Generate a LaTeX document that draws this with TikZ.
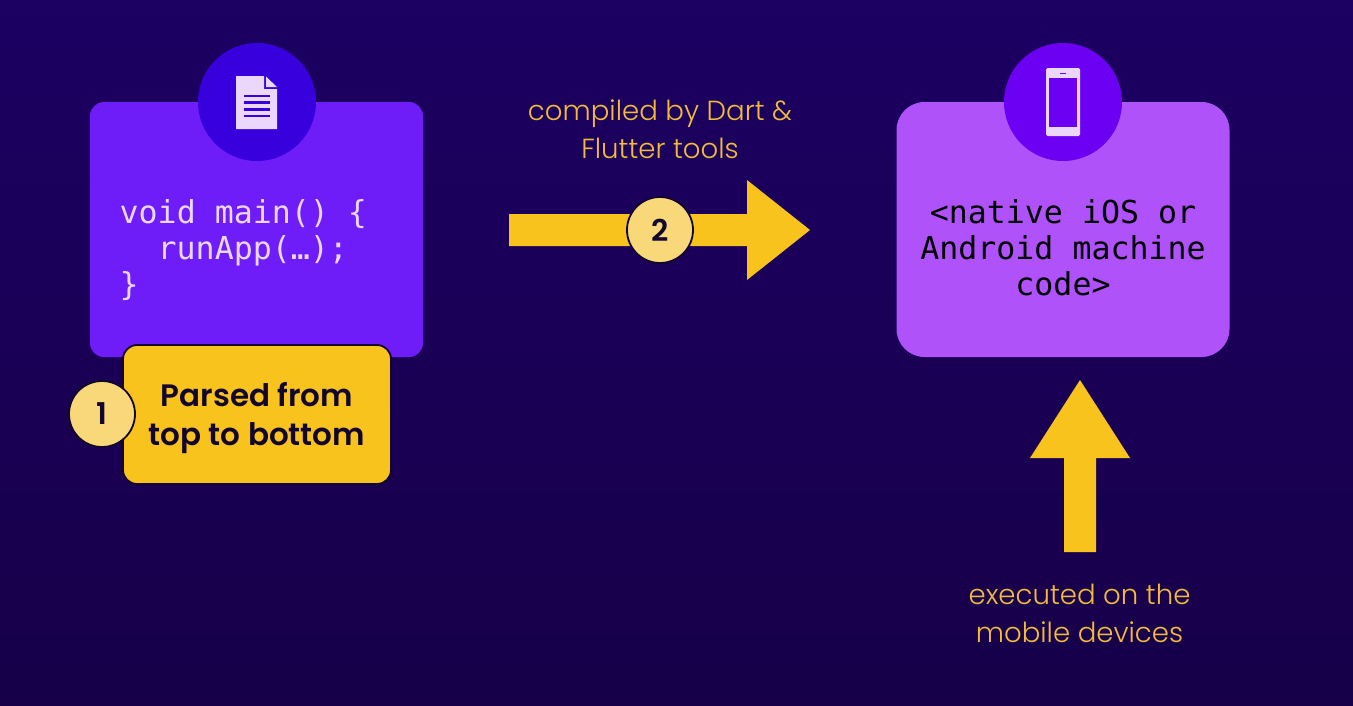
\documentclass[tikz,border=0pt]{standalone}
\usepackage{fontspec}
\setmainfont{Poppins}
\newfontfamily\capfont{Poppins Light}
\newfontfamily\notefont{Poppins SemiBold}
\setmonofont{DejaVu Sans Mono}
\definecolor{bgtop}{HTML}{1C0062}
\definecolor{bgbot}{HTML}{170049}
\definecolor{boxa}{HTML}{6E1CF8}
\definecolor{boxb}{HTML}{B052FA}
\definecolor{circa}{HTML}{3700DD}
\definecolor{circb}{HTML}{6C00F2}
\definecolor{amber}{HTML}{F9C31E}
\definecolor{badge}{HTML}{F8D878}
\definecolor{lilac}{HTML}{EBD6FC}
\definecolor{capt}{HTML}{F2BC3A}
\definecolor{inkk}{HTML}{12062E}
\tikzset{
  x=1pt,y=-1pt,
  card/.style={inner sep=0pt,outer sep=0pt,minimum width=333pt,minimum height=255pt},
  iconcirc/.style={circle,inner sep=0pt,minimum size=118pt},
  notebox/.style={draw=inkk,line width=1.8pt,fill=amber,rounded corners=14pt,inner sep=0pt,minimum width=268pt,minimum height=139pt},
  notetext/.style={align=center,inner sep=0pt,text=inkk,font=\fontsize{31}{39.5}\selectfont\notefont},
  numbadge/.style={circle,draw=inkk,line width=1.8pt,fill=badge,inner sep=0pt,minimum size=66pt,text=inkk,font=\fontsize{30}{36}\selectfont\notefont},
  codetext/.style={align=left,inner sep=0pt,font=\fontsize{31.6}{36}\selectfont\ttfamily},
  captext/.style={align=center,inner sep=0pt,text=capt,font=\fontsize{27.6}{38}\selectfont\capfont},
  blockarrow/.style={fill=amber,draw=none},
}
\begin{document}
\begin{tikzpicture}
\useasboundingbox (0,0) rectangle (1353,705);
\shade[top color=bgtop,bottom color=bgbot] (0,0) rectangle (1353,705);

% left card
\node[card,fill=boxa,rounded corners=14pt] (cardA) at (256.5,229.5) {};
\node[iconcirc,fill=circa] (circA) at (257,102) {};
\fill[lilac] (236,76) -- (264,76) -- (264,89) -- (277,89) -- (277,129) -- (236,129) -- cycle;
\fill[lilac] (266,76.5) -- (277,87) -- (266,87) -- cycle;
\foreach \yy in {96,102.7,109.4,116}{\fill[circa] (243.5,\yy-1.4) rectangle (270,\yy+1.4);}
\node[codetext,text=lilac,anchor=north west] (codeA) at (119.5,199) {void main() \{\\\hspace*{38pt}runApp(…);\\\}};

% right card
\node[card,fill=boxb,rounded corners=28pt] (cardB) at (1063,229.5) {};
\node[iconcirc,fill=circb] (circB) at (1063,102) {};
\fill[lilac,rounded corners=1.5pt] (1046,68) rectangle (1080,136);
\fill[circb] (1049,78) rectangle (1077,127);
\fill[circb] (1060,72.6) rectangle (1066,74.4);
\node[codetext,align=center,text=black] (codeB) at (1063,247.5) {<native iOS or\\Android machine\\code>};

% yellow note
\node[notebox] (note) at (257,414.5) {};
\node[notetext] (noteText) at (257,418) {Parsed from\\top to bottom};
\node[numbadge] (one) at (102,414) {\raisebox{-3.5pt}{1}};

% horizontal arrow
\fill[blockarrow] (509,214) -- (747,214) -- (747,180) -- (810,230) -- (747,280) -- (747,246) -- (509,246) -- cycle;
\node[numbadge] (two) at (660,230) {\raisebox{-2.5pt}{2}};
\node[captext] (capA) at (660,129.5) {compiled by Dart \&\\Flutter tools};

% vertical arrow
\fill[blockarrow] (1080,380) -- (1130,458) -- (1096,458) -- (1096,552) -- (1064,552) -- (1064,458) -- (1030,458) -- cycle;
\node[captext] (capB) at (1079.5,613.5) {executed on the\\mobile devices};
\end{tikzpicture}
\end{document}
